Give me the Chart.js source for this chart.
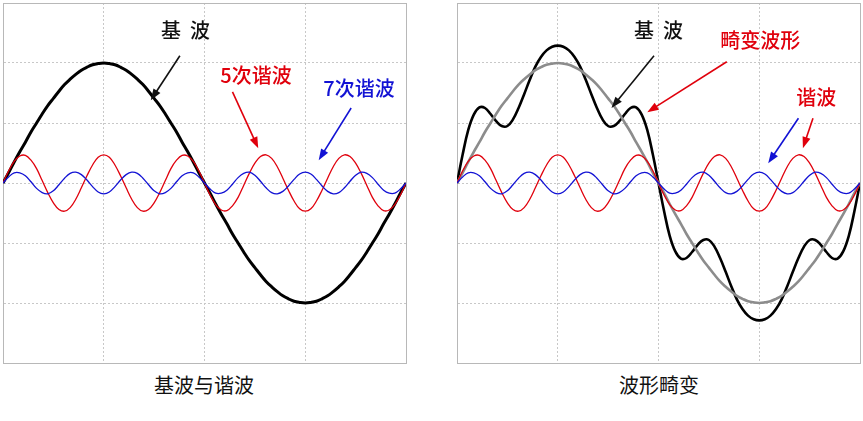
<!DOCTYPE html>
<html>
<head>
<meta charset="utf-8">
<script src="https://cdn.jsdelivr.net/npm/chart.js@4"></script>
<style>
  body { margin: 0; background: #fff; width: 863px; height: 421px; position: relative; font-family: "Noto Sans CJK SC", sans-serif; }
  .box { position: absolute; top: 0; width: 409px; height: 366px; }
  .title { position: absolute; top: 370px; font-size: 20px; color: #111; text-align: center; width: 300px; }
</style>
</head>
<body>
<div class="box" style="left:0px"><canvas id="left"></canvas></div>
<div class="box" style="left:454px"><canvas id="right"></canvas></div>
<div class="title" style="left:54px">基波与谐波</div>
<div class="title" style="left:509px">波形畸变</div>
<script>
// angle in degrees, 5 degree steps 0..360
const angles = Array.from({ length: 73 }, (_, i) => i * 5)

const fundamental = [0, .17, .35, .52, .68, .85, 1, 1.15, 1.29, 1.41, 1.53, 1.64, 1.73, 1.81, 1.88, 1.93, 1.97, 1.99, 2,
  1.99, 1.97, 1.93, 1.88, 1.81, 1.73, 1.64, 1.53, 1.41, 1.29, 1.15, 1, .85, .68, .52, .35, .17, 0,
  -.17, -.35, -.52, -.68, -.85, -1, -1.15, -1.29, -1.41, -1.53, -1.64, -1.73, -1.81, -1.88, -1.93, -1.97, -1.99, -2,
  -1.99, -1.97, -1.93, -1.88, -1.81, -1.73, -1.64, -1.53, -1.41, -1.29, -1.15, -1, -.85, -.68, -.52, -.35, -.17, 0]

const harmonic5 = [0, .20, .36, .45, .46, .38, .24, .04, -.16, -.33, -.44, -.47, -.41, -.27, -.08, .12, .30, .43, .47,
  .43, .30, .12, -.08, -.27, -.41, -.47, -.44, -.33, -.16, .04, .24, .38, .46, .45, .36, .20, 0,
  -.20, -.36, -.45, -.46, -.38, -.24, -.04, .16, .33, .44, .47, .41, .27, .08, -.12, -.30, -.43, -.47,
  -.43, -.30, -.12, .08, .27, .41, .47, .44, .33, .16, -.04, -.24, -.38, -.46, -.45, -.36, -.20, 0]

const harmonic7 = [0, .10, .17, .17, .12, .02, -.09, -.16, -.18, -.13, -.03, .08, .16, .18, .14, .05, -.06, -.15, -.18,
  -.15, -.06, .05, .14, .18, .16, .08, -.03, -.13, -.18, -.16, -.09, .02, .12, .17, .17, .10, 0,
  -.10, -.17, -.17, -.12, -.02, .09, .16, .18, .13, .03, -.08, -.16, -.18, -.14, -.05, .06, .15, .18,
  .15, .06, -.05, -.14, -.18, -.16, -.08, .03, .13, .18, .16, .09, -.02, -.12, -.17, -.17, -.10, 0]

const distorted = [0, .47, .88, 1.14, 1.26, 1.25, 1.15, 1.03, .95, .95, 1.06, 1.25, 1.48, 1.72, 1.94, 2.10, 2.21, 2.27, 2.29,
  2.27, 2.21, 2.10, 1.94, 1.72, 1.48, 1.25, 1.06, .95, .95, 1.03, 1.15, 1.25, 1.26, 1.14, .88, .47, 0,
  -.47, -.88, -1.14, -1.26, -1.25, -1.15, -1.03, -.95, -.95, -1.06, -1.25, -1.48, -1.72, -1.94, -2.10, -2.21, -2.27, -2.29,
  -2.27, -2.21, -2.10, -1.94, -1.72, -1.48, -1.25, -1.06, -.95, -.95, -1.03, -1.15, -1.25, -1.26, -1.14, -.88, -.47, 0]

const RED = '#e0000c'
const BLUE = '#1212d4'

// labels and arrows, placed in data units: [x deg, y]
const leftNotes = [
  { text: '基  波', at: [163, 2.55], color: '#111', from: [158, 2.12], to: [132, 1.38] },
  { text: '5次谐波', at: [226, 1.8], color: RED, from: [205, 1.52], to: [228, 0.58] },
  { text: '7次谐波', at: [318, 1.58], color: BLUE, from: [311, 1.25], to: [282, 0.38] }
]
const rightNotes = [
  { text: '基  波', at: [180, 2.55], color: '#111', from: [176, 2.12], to: [138, 1.25] },
  { text: '畸变波形', at: [271, 2.38], color: RED, from: [241, 2.02], to: [170, 1.18] },
  { text: '谐波', at: [321, 1.42], color: RED, from: [318, 1.08], to: [309, 0.58] },
  { text: '', at: [0, 0], color: BLUE, from: [305, 1.08], to: [278, 0.33] }
]

const pts = (vals) => vals.map((v, i) => ({ x: angles[i], y: v }))

const line = (vals, color, width) => ({
  data: pts(vals), borderColor: color, borderWidth: width,
  pointRadius: 0, tension: 0.4, fill: false
})

const notesPlugin = (notes) => ({
  id: 'notes',
  afterDatasetsDraw(chart) {
    const { ctx, scales: { x, y } } = chart
    ctx.save()
    notes.forEach(n => {
      if (n.text) {
        ctx.font = '500 20px "Noto Sans CJK SC"'
        ctx.fillStyle = n.color
        ctx.textAlign = 'center'
        ctx.textBaseline = 'middle'
        ctx.fillText(n.text, x.getPixelForValue(n.at[0]), y.getPixelForValue(n.at[1]))
      }
      const x1 = x.getPixelForValue(n.from[0]), y1 = y.getPixelForValue(n.from[1])
      const x2 = x.getPixelForValue(n.to[0]), y2 = y.getPixelForValue(n.to[1])
      const a = Math.atan2(y2 - y1, x2 - x1)
      ctx.strokeStyle = n.color
      ctx.fillStyle = n.color
      ctx.lineWidth = 1.6
      ctx.beginPath()
      ctx.moveTo(x1, y1)
      ctx.lineTo(x2 - 8 * Math.cos(a), y2 - 8 * Math.sin(a))
      ctx.stroke()
      ctx.beginPath()
      ctx.moveTo(x2, y2)
      ctx.lineTo(x2 - 12 * Math.cos(a - 0.35), y2 - 12 * Math.sin(a - 0.35))
      ctx.lineTo(x2 - 12 * Math.cos(a + 0.35), y2 - 12 * Math.sin(a + 0.35))
      ctx.closePath()
      ctx.fill()
    })
    ctx.restore()
  }
})

const gridStyle = { color: '#c8c8c8', drawTicks: false, tickBorderDash: [2, 2] }
const dashed = { color: '#b8b8b8', dash: [2, 2] }

const makeChart = (id, datasets, notes) => new Chart(document.getElementById(id), {
  type: 'line',
  data: { datasets },
  options: {
    animation: false,
    responsive: true,
    maintainAspectRatio: false,
    layout: { padding: 3 },
    plugins: { legend: { display: false }, tooltip: { enabled: false } },
    scales: {
      x: {
        type: 'linear', min: 0, max: 360,
        ticks: { display: false, stepSize: 90 },
        grid: gridStyle,
        border: { color: '#b8b8b8', dash: [2, 2] }
      },
      y: {
        min: -3, max: 3,
        ticks: { display: false, stepSize: 1 },
        grid: gridStyle,
        border: { color: '#b8b8b8', dash: [2, 2] }
      },
      x2: { type: 'linear', position: 'top', display: true, ticks: { display: false }, grid: { display: false, drawTicks: false }, border: dashed },
      y2: { position: 'right', display: true, ticks: { display: false }, grid: { display: false, drawTicks: false }, border: dashed }
    }
  },
  plugins: [notesPlugin(notes)]
})

makeChart('left', [
  line(harmonic7, BLUE, 1.3),
  line(harmonic5, RED, 1.3),
  line(fundamental, '#000', 3)
], leftNotes)

makeChart('right', [
  line(harmonic7, BLUE, 1.3),
  line(harmonic5, RED, 1.3),
  line(fundamental, '#8c8c8c', 2.6),
  line(distorted, '#000', 2.6)
], rightNotes)
</script>
</body>
</html>
